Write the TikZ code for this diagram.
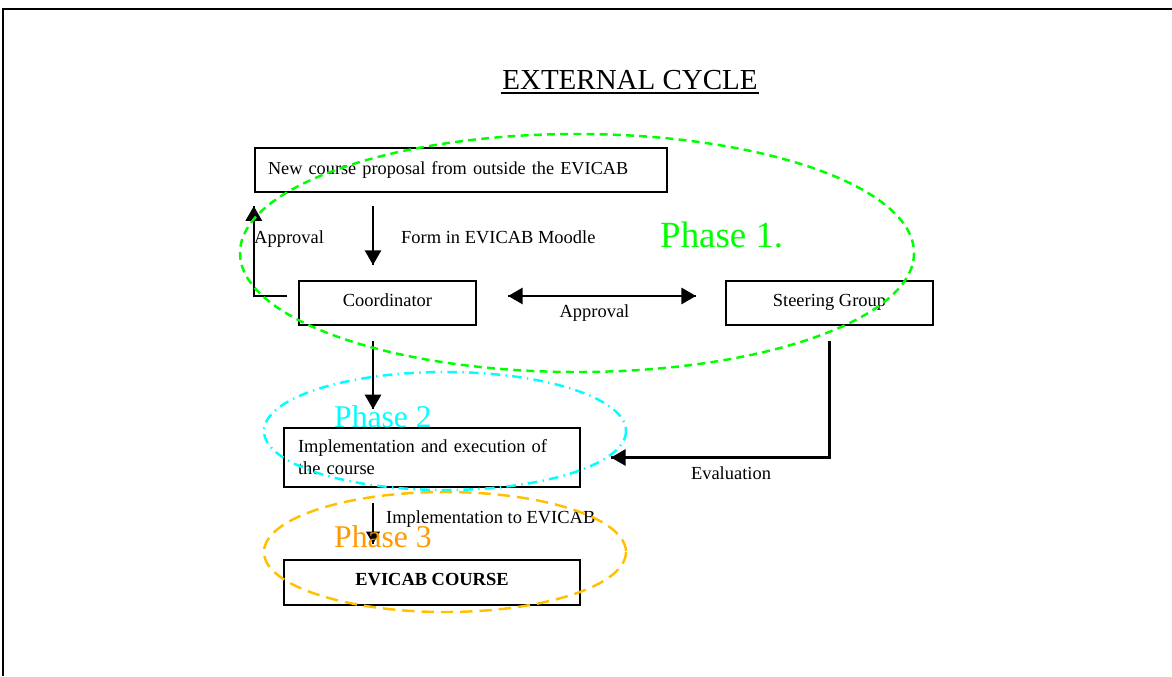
\documentclass[tikz,border=0pt]{standalone}
\usepackage{fontspec}
\setmainfont{Liberation Serif}
\usepackage{tikz}
\usetikzlibrary{arrows}
\usetikzlibrary{decorations.markings}
\usetikzlibrary{positioning}
\definecolor{phaseone}{RGB}{0,255,0}
\definecolor{phasetwo}{RGB}{0,255,255}
\definecolor{phasethree}{RGB}{255,153,0}
\definecolor{ringthree}{RGB}{255,192,0}
\tikzset{endarrow/.style = {decoration={markings,
                                        mark=at position 1 with {\arrow[scale=0.95]{triangle 60}}},
                            postaction={decorate}}}
\tikzset{bothend/.style = {decoration={markings,
                                       mark=at position 0 with {\arrowreversed[scale=0.95]{triangle 60}},
                                       mark=at position 1 with {\arrow[scale=0.95]{triangle 60}}},
                           postaction={decorate}}}
\tikzset{box/.style = {draw, line width=1.4pt, inner sep=0, minimum height=0.88cm}}
\tikzset{oneline/.style = {text height=7pt, text depth=3.5pt}}
\tikzset{lbl/.style = {inner sep=0, font=\fontsize{10.5}{12.5}\selectfont}}
\tikzset{phase/.style = {inner sep=0, anchor=base west}}

\begin{document}
\begin{tikzpicture}[x=0.02cm, y=-0.02cm, line width=1.4pt,
                    font=\fontsize{10.5}{12.5}\selectfont]
      \useasboundingbox (0, 0) rectangle (1172, 676);
      \draw (3, 676) -- (3, 9) -- (1172, 9);

      \node [inner sep=0, anchor=base, font=\fontsize{16.5}{19}\selectfont] (title) at (630, 89) {EXTERNAL CYCLE};
      \draw ([yshift=-2.4pt]title.base west) -- ([yshift=-2.4pt]title.base east);

      \node [box, minimum width=8.24cm, text width=7.72cm, align=left, font=\fontsize{10.4}{12.5}\selectfont] (prop) at (461, 170)
            {New course proposal from outside the EVICAB};
      \node [box, oneline, minimum width=3.54cm] (coord) at (387.5, 303) {Coordinator};
      \node [box, oneline, minimum width=4.14cm] (steer) at (829.5, 303) {Steering Group};
      \node [box, minimum width=5.92cm, minimum height=1.18cm, text width=5.36cm, align=left] (impl) at (432, 457.5)
            {Implementation and execution of\\the course};
      \node [box, oneline, minimum width=5.92cm, minimum height=0.9cm, font=\fontsize{10.5}{12.5}\selectfont\bfseries] (course) at (432, 582.5)
            {EVICAB COURSE};

      \coordinate (col) at (373, 0);

      \draw [endarrow] ([yshift=-7.4pt]prop.south -| col) -- ([yshift=8.5pt]coord.north -| col);
      \draw [endarrow] ([xshift=-6pt, yshift=4pt]coord.west) -| ([yshift=-7.4pt]prop.south west);
      \draw [bothend] ([xshift=17.6pt, yshift=4pt]coord.east) -- ([xshift=-16.4pt, yshift=4pt]steer.west);
      \draw [endarrow] ([yshift=-8.5pt]coord.south -| col) -- ([yshift=10pt]impl.north -| col);
      \draw [endarrow] ([yshift=-8.5pt]steer.south) |- ([xshift=17pt]impl.east);
      \draw [endarrow, line width=1pt] ([yshift=-8.5pt]impl.south -| col) -- ([yshift=8.5pt]course.north -| col);

      \node [lbl, anchor=base west] (form) at (400, 243) {Form in EVICAB Moodle};
      \node [lbl, anchor=base west] (appleft) at (253, 243) {Approval};
      \node [lbl, anchor=base] (appmid) at (594.5, 317) {Approval};
      \node [lbl, anchor=base] (eval) at (731, 479) {Evaluation};
      \node [lbl, anchor=base west] (toevicab) at (385, 523) {Implementation to EVICAB};

      \node [phase, text=phaseone, font=\fontsize{21}{24}\selectfont] (ph1) at (659, 247) {Phase 1.};
      \node [phase, text=phasetwo, font=\fontsize{18}{21}\selectfont] (ph2) at (333, 427) {Phase 2};
      \node [phase, text=phasethree, font=\fontsize{18}{21}\selectfont] (ph3) at (333, 547) {Phase 3};

      \draw [phaseone, dash pattern=on 4.5pt off 3pt] (577, 253) ellipse [x radius=337, y radius=119];
      \draw [phasetwo, dash pattern=on 5.5pt off 3pt on 0.8pt off 3pt] (445, 431) ellipse [x radius=181, y radius=59];
      \draw [ringthree, dash pattern=on 7pt off 4pt] (445, 552) ellipse [x radius=181, y radius=60];
    \end{tikzpicture}
\end{document}
